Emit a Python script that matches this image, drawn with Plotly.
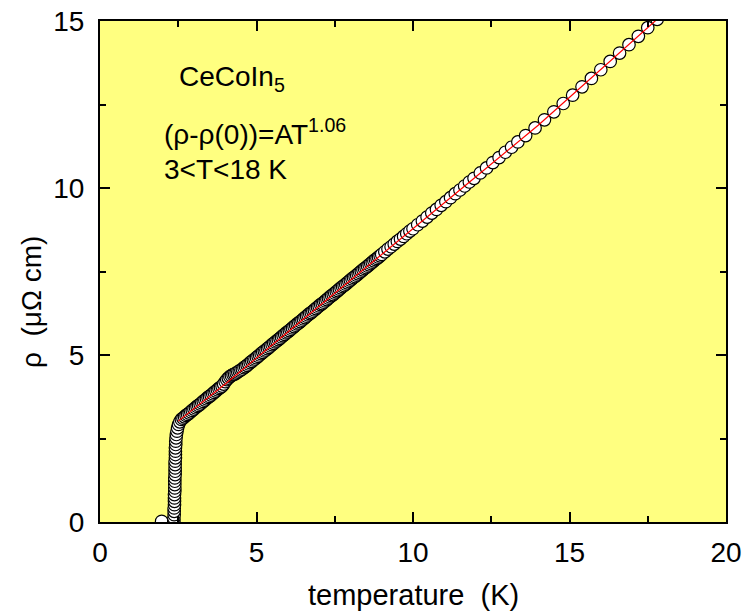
import plotly.graph_objects as go

# --- data ---
# superconducting transition (T in K, rho in micro-ohm cm)
trans_T = [1.97, 2.36, 2.36, 2.37, 2.37, 2.37, 2.38, 2.38, 2.38, 2.38, 2.39, 2.39, 2.39, 2.39, 2.39,
           2.40, 2.40, 2.40, 2.40, 2.40, 2.41, 2.41, 2.41, 2.41, 2.42, 2.42, 2.43, 2.44, 2.46, 2.48, 2.51, 2.55]
trans_R = [0.02, 0.02, 0.12, 0.22, 0.32, 0.42, 0.52, 0.62, 0.72, 0.82, 0.92, 1.02, 1.12, 1.22, 1.32,
           1.42, 1.52, 1.62, 1.72, 1.82, 1.92, 2.02, 2.12, 2.22, 2.32, 2.42, 2.52, 2.62, 2.72, 2.82, 2.92, 3.00]

# normal state, low temperature (very dense)
low_T = [2.60, 2.65, 2.70, 2.75, 2.80, 2.85, 2.90, 2.95, 3.00, 3.05, 3.10, 3.15, 3.20, 3.25, 3.30,
         3.35, 3.40, 3.45, 3.50, 3.55, 3.60, 3.65, 3.70, 3.75, 3.80, 3.85, 3.90, 3.95, 4.00, 4.05,
         4.10, 4.15, 4.20, 4.25, 4.30, 4.35, 4.40, 4.45, 4.50, 4.55, 4.60, 4.65, 4.70, 4.75, 4.80,
         4.85, 4.90, 4.95, 5.00, 5.05, 5.10, 5.15, 5.20, 5.25, 5.30, 5.35, 5.40, 5.45, 5.50, 5.55,
         5.60, 5.65, 5.70, 5.75, 5.80, 5.85, 5.90, 5.95, 6.00, 6.05, 6.10, 6.15, 6.20, 6.25, 6.30,
         6.35, 6.40, 6.45, 6.50, 6.55, 6.60, 6.65, 6.70, 6.75, 6.80, 6.85, 6.90, 6.95, 7.00, 7.05,
         7.10, 7.15, 7.20, 7.25, 7.30, 7.35, 7.40, 7.45, 7.50, 7.55, 7.60, 7.65, 7.70, 7.75, 7.80,
         7.85, 7.90, 7.95, 8.00, 8.05, 8.10, 8.15, 8.20, 8.25, 8.30, 8.35, 8.40, 8.45, 8.50, 8.55,
         8.60, 8.65, 8.70, 8.75, 8.80, 8.85, 8.90, 8.95, 9.00]
low_R = [3.07, 3.11, 3.15, 3.19, 3.22, 3.26, 3.30, 3.34, 3.38, 3.42, 3.46, 3.49, 3.53, 3.57, 3.61,
         3.65, 3.69, 3.73, 3.76, 3.80, 3.84, 3.88, 3.92, 3.96, 4.00, 4.03, 4.07, 4.13, 4.20, 4.26,
         4.31, 4.35, 4.38, 4.41, 4.43, 4.46, 4.49, 4.52, 4.55, 4.58, 4.62, 4.65, 4.69, 4.73, 4.77,
         4.81, 4.85, 4.88, 4.92, 4.96, 5.00, 5.04, 5.08, 5.12, 5.15, 5.19, 5.23, 5.27, 5.31, 5.35,
         5.39, 5.42, 5.46, 5.50, 5.54, 5.58, 5.62, 5.66, 5.69, 5.73, 5.77, 5.81, 5.85, 5.89, 5.93,
         5.96, 6.00, 6.04, 6.08, 6.12, 6.16, 6.20, 6.24, 6.27, 6.31, 6.35, 6.39, 6.43, 6.47, 6.51,
         6.54, 6.58, 6.62, 6.66, 6.70, 6.74, 6.78, 6.81, 6.85, 6.89, 6.93, 6.97, 7.01, 7.05, 7.08,
         7.12, 7.16, 7.20, 7.24, 7.28, 7.32, 7.35, 7.39, 7.43, 7.47, 7.51, 7.55, 7.59, 7.62, 7.66,
         7.70, 7.74, 7.78, 7.82, 7.86, 7.89, 7.93, 7.97, 8.01]

# normal state, intermediate and high temperature (sparser)
high_T = [9.1, 9.2, 9.3, 9.4, 9.5, 9.6, 9.7, 9.8, 9.9, 10.0,
          10.15, 10.3, 10.45, 10.6, 10.75, 10.9, 11.05, 11.2, 11.35, 11.5, 11.65, 11.8, 11.95,
          12.15, 12.35, 12.55, 12.75, 12.95, 13.15, 13.35, 13.6, 13.9, 14.2, 14.5, 14.8, 15.1,
          15.4, 15.7, 16.0, 16.3, 16.6, 16.9, 17.2, 17.5, 17.8]
high_R = [8.09, 8.17, 8.24, 8.32, 8.40, 8.47, 8.55, 8.63, 8.71, 8.78,
          8.90, 9.01, 9.13, 9.25, 9.36, 9.48, 9.59, 9.71, 9.83, 9.94, 10.06, 10.18, 10.29,
          10.45, 10.60, 10.76, 10.91, 11.07, 11.22, 11.38, 11.57, 11.80, 12.04, 12.28, 12.53, 12.78,
          13.03, 13.28, 13.54, 13.79, 14.04, 14.29, 14.54, 14.80, 15.05]

# power-law fit line (rho - rho(0)) = A T^1.06
fit_T = [2.5, 4, 6, 8, 10, 12, 14, 16, 18]
fit_R = [3.02, 4.13, 5.69, 7.23, 8.78, 10.33, 11.88, 13.54, 15.22]

x_ticks = [0, 5, 10, 15, 20]
y_ticks = [0, 5, 10, 15]

T_all = trans_T + low_T + high_T
R_all = trans_R + low_R + high_R

fig = go.Figure()
fig.add_trace(go.Scatter(
    x=T_all, y=R_all, mode="markers",
    marker=dict(symbol="circle", size=12.5, color="white",
                line=dict(color="black", width=1.2)),
    showlegend=False, hoverinfo="skip"))
fig.add_trace(go.Scatter(
    x=fit_T, y=fit_R, mode="lines",
    line=dict(color="#ff0000", width=1.2),
    showlegend=False, hoverinfo="skip"))

FONT = "Liberation Sans, Arial, sans-serif"
W, H = 745, 615
ml, mr, mt, mb = 100, 19, 21, 93

axis_common = dict(
    showline=True, linecolor="black", linewidth=2, mirror="ticks",
    ticks="inside", ticklen=10, tickwidth=2, tickcolor="black",
    showgrid=False, zeroline=False, automargin=False,
    tickfont=dict(family=FONT, size=28, color="black"),
)

fig.update_layout(
    width=W, height=H,
    margin=dict(l=ml, r=mr, t=mt, b=mb),
    paper_bgcolor="white",
    plot_bgcolor="#ffff80",
    xaxis=dict(range=[0, 20], tickvals=x_ticks, ticktext=[str(v) for v in x_ticks],
               minor=dict(ticks="inside", ticklen=6, tickwidth=2, tickcolor="black",
                          tickvals=[2.5, 7.5, 12.5, 17.5]),
               ticklabelstandoff=4,
               **axis_common),
    yaxis=dict(range=[0, 15], tickvals=y_ticks, ticktext=[str(v) for v in y_ticks],
               minor=dict(ticks="inside", ticklen=6, tickwidth=2, tickcolor="black",
                          tickvals=[2.5, 7.5, 12.5]),
               ticklabelstandoff=8,
               **axis_common),
)

pw = W - ml - mr
ph = H - mt - mb
def px(xp):
    return (xp - ml) / pw
def py(yp):
    return 1 - (yp - mt) / ph

anns = [
    dict(text="temperature  (K)", x=px(413), y=py(595), xanchor="center", font_size=29),
    dict(text="ρ  (μΩ cm)", x=px(31), y=py(302), xanchor="center", textangle=-90, font_size=28),
    dict(text="CeCoIn<sub>5</sub>", x=px(177), y=py(78), xanchor="left", font_size=28),
    dict(text="(ρ-ρ(0))=AT<sup>1.06</sup>", x=px(162), y=py(132), xanchor="left", font_size=28),
    dict(text="3<T<18 K", x=px(162), y=py(169), xanchor="left", font_size=28),
]
for a in anns:
    fs = a.pop("font_size")
    fig.add_annotation(xref="paper", yref="paper", showarrow=False, yanchor="middle",
                       font=dict(family=FONT, size=fs, color="black"), **a)

fig.write_html("out.html")
